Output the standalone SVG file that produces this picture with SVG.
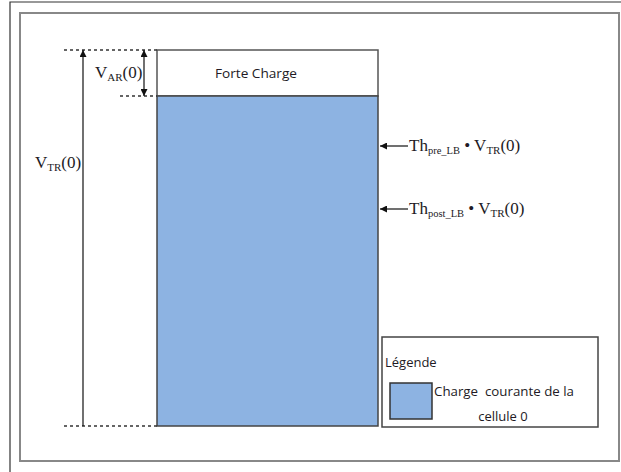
<svg xmlns="http://www.w3.org/2000/svg" width="621" height="472" viewBox="0 0 621 472">
<style>
.sans{font-family:"Open Sans","Liberation Sans",sans-serif;fill:#221a24;white-space:pre;}
.serif{font-family:"Liberation Serif","DejaVu Serif",serif;fill:#221a24;}
.dash{stroke:#333;stroke-width:1.5;stroke-dasharray:3 3;fill:none;}
.arr{stroke:#111;stroke-width:1.2;fill:none;}
</style>
<defs>
<marker id="ah" viewBox="0 0 10 10" refX="10" refY="5" markerWidth="7" markerHeight="7" orient="auto-start-reverse" markerUnits="userSpaceOnUse">
<path d="M0,0 L10,5 L0,10 z" fill="#111"/>
</marker>
</defs>
<rect x="0" y="0" width="621" height="472" fill="#fff"/>
<g id="frame">
<path d="M10,472 V2 H621" fill="none" stroke="#333" stroke-width="1.2"/>
<rect x="20" y="13" width="599" height="448" fill="#fff" stroke="#888" stroke-width="2"/>
</g>
<g id="bar">
<rect x="157" y="50" width="221" height="46" fill="#fff" stroke="#555" stroke-width="1.5"/>
<rect x="157" y="96" width="221" height="330" fill="#8db3e2" stroke="#444" stroke-width="1.5"/>
<text class="sans" x="256" y="78" font-size="13" text-anchor="middle" textLength="82" lengthAdjust="spacingAndGlyphs">Forte Charge</text>
</g>
<g id="connectors">
<line class="dash" x1="64" y1="50" x2="157" y2="50"/>
<line class="dash" x1="120" y1="96" x2="157" y2="96"/>
<line class="dash" x1="64" y1="426" x2="157" y2="426"/>
<line class="arr" x1="83" y1="426" x2="83" y2="50" marker-end="url(#ah)"/>
<line class="arr" x1="144" y1="50" x2="144" y2="96" marker-start="url(#ah)" marker-end="url(#ah)"/>
<line class="arr" x1="408" y1="146" x2="380" y2="146" marker-end="url(#ah)"/>
<line class="arr" x1="408" y1="209" x2="380" y2="209" marker-end="url(#ah)"/>
</g>
<g id="labels">
<text class="serif" x="95" y="78" font-size="17">V<tspan font-size="11" dy="3">AR</tspan><tspan dy="-3">(0)</tspan></text>
<text class="serif" x="35" y="168" font-size="17">V<tspan font-size="11" dy="3">TR</tspan><tspan dy="-3">(0)</tspan></text>
<text class="serif" x="409" y="151" font-size="17">Th<tspan font-size="10.5" dy="3">pre_LB</tspan><tspan dy="-3"> • V</tspan><tspan font-size="11" dy="3">TR</tspan><tspan dy="-3">(0)</tspan></text>
<text class="serif" x="409" y="214" font-size="17">Th<tspan font-size="10.5" dy="3">post_LB</tspan><tspan dy="-3"> • V</tspan><tspan font-size="11" dy="3">TR</tspan><tspan dy="-3">(0)</tspan></text>
</g>
<g id="legend">
<rect x="382" y="337" width="216" height="90" fill="#fff" stroke="#444" stroke-width="1.5"/>
<text class="sans" x="385" y="367" font-size="13">Légende</text>
<rect x="390" y="383" width="42" height="36" fill="#8db3e2" stroke="#333" stroke-width="1.5"/>
<text class="sans" x="434" y="396" font-size="13" textLength="140" lengthAdjust="spacingAndGlyphs">Charge  courante de la</text>
<text class="sans" x="503" y="421" font-size="13" text-anchor="middle">cellule 0</text>
</g>
</svg>
